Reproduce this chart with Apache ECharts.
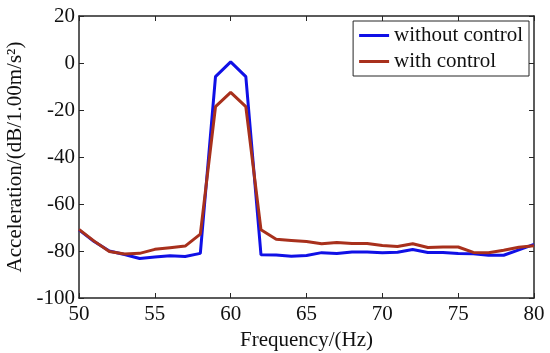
<!DOCTYPE html>
<html>
<head>
<meta charset="utf-8">
<script src="https://cdn.jsdelivr.net/npm/echarts@6/dist/echarts.min.js"></script>
<style>html,body{margin:0;padding:0;background:#fff}#c{width:550px;height:353px}</style>
</head>
<body>
<div id="c"></div>
<script>
var frequency = [50,51,52,53,54,55,56,57,58,59,60,61,62,63,64,65,66,67,68,69,70,71,72,73,74,75,76,77,78,79,80];
var withoutControl = [-71,-76,-80,-81.5,-83.2,-82.6,-82,-82.3,-81,-5.8,0.5,-5.8,-81.6,-81.7,-82.2,-81.9,-80.7,-81.1,-80.4,-80.4,-80.7,-80.5,-79.4,-80.6,-80.6,-81.1,-81.2,-81.8,-81.8,-79.5,-77.2];
var withControl = [-70.8,-75.8,-80.2,-81.3,-81,-79.3,-78.6,-77.9,-72.8,-18.6,-12.5,-18.6,-71,-75,-75.5,-76,-76.9,-76.4,-76.8,-76.8,-77.7,-78.1,-76.9,-78.5,-78.3,-78.3,-80.6,-80.7,-79.7,-78.4,-77.8];
var xTicks = [50,55,60,65,70,75,80];
var yTicks = [-100,-80,-60,-40,-20,0,20];

var font = 'Liberation Serif';
var axisColor = '#262626';
function pairs(v){ return frequency.map(function(f,i){ return [f, v[i]]; }); }

var chart = echarts.init(document.getElementById('c'), null, {renderer:'canvas'});
var common = {
  axisLine:{show:true, onZero:false, lineStyle:{color:axisColor, width:1.5}},
  axisTick:{show:true, inside:true, length:5, lineStyle:{color:axisColor, width:1}},
  splitLine:{show:false}
};
chart.setOption({
  animation:false,
  backgroundColor:'#fff',
  textStyle:{fontFamily:font},
  grid:{left:79, right:16, top:16, bottom:55, containLabel:false, outerBoundsMode:'none'},
  legend:{
    orient:'vertical', right:21, top:21,
    backgroundColor:'#fff',
    borderColor:axisColor, borderWidth:1, borderRadius:0,
    padding:[4,6,4,6], itemGap:5,
    itemWidth:30, itemHeight:3, icon:'rect',
    textStyle:{fontFamily:font, fontSize:21, color:'#111'},
    data:['without control','with control']
  },
  xAxis:[
    Object.assign({type:'value', min:50, max:80, interval:5, position:'bottom',
      name:'Frequency/(Hz)', nameLocation:'middle', nameGap:29,
      nameTextStyle:{fontFamily:font, fontSize:21, color:'#111'},
      axisLabel:{fontFamily:font, fontSize:21, color:'#111', margin:6}}, common),
    Object.assign({type:'value', min:50, max:80, interval:5, position:'top',
      axisLabel:{show:false}}, common)
  ],
  yAxis:[
    Object.assign({type:'value', min:-100, max:20, interval:20, position:'left',
      name:'Acceleration/(dB/1.00m/s²)', nameLocation:'middle', nameGap:52, nameRotate:90,
      nameTextStyle:{fontFamily:font, fontSize:21, color:'#111'},
      axisLabel:{fontFamily:font, fontSize:21, color:'#111', margin:4}}, common),
    Object.assign({type:'value', min:-100, max:20, interval:20, position:'right',
      axisLabel:{show:false}}, common)
  ],
  series:[
    {name:'without control', type:'line', data:pairs(withoutControl), showSymbol:false,
     lineStyle:{color:'#1010e6', width:3}, itemStyle:{color:'#1010e6'}, z:2},
    {name:'with control', type:'line', data:pairs(withControl), showSymbol:false,
     lineStyle:{color:'#a8301c', width:3}, itemStyle:{color:'#a8301c'}, z:3}
  ]
});
</script>
</body>
</html>
